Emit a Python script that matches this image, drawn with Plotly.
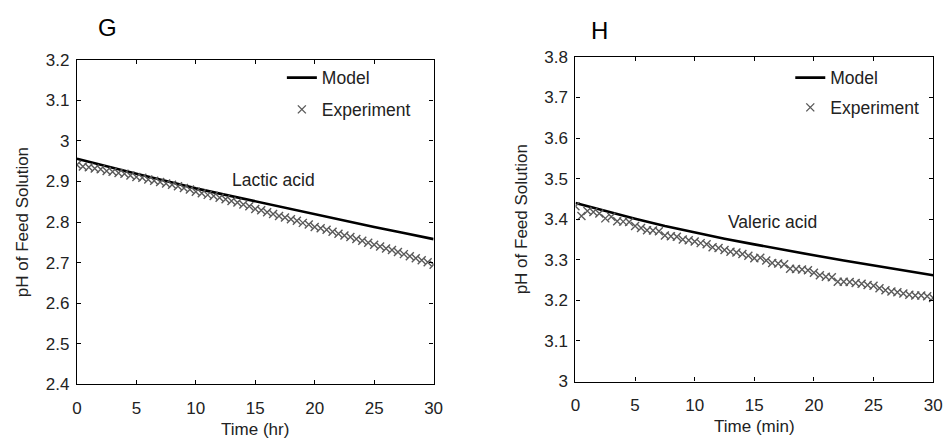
import plotly.graph_objects as go

# ---------------- data ----------------
t_exp = [i * 0.5 for i in range(61)]
t_model = [0, 2.5, 5, 7.5, 10, 12.5, 15, 17.5, 20, 22.5, 25, 27.5, 30]

lactic_model = [2.956, 2.937, 2.919, 2.901, 2.883, 2.867, 2.851, 2.835,
                2.819, 2.803, 2.788, 2.773, 2.758]
lactic_exp = [2.941, 2.937, 2.935, 2.932, 2.930, 2.926, 2.924, 2.921, 2.919, 2.915,
              2.911, 2.909, 2.905, 2.902, 2.899, 2.895, 2.892, 2.888, 2.884, 2.880,
              2.875, 2.871, 2.867, 2.864, 2.860, 2.856, 2.852, 2.848, 2.843, 2.839,
              2.832, 2.829, 2.824, 2.820, 2.815, 2.811, 2.807, 2.803, 2.798, 2.794,
              2.788, 2.785, 2.781, 2.776, 2.771, 2.767, 2.763, 2.758, 2.754, 2.749,
              2.744, 2.740, 2.735, 2.731, 2.726, 2.721, 2.716, 2.711, 2.706, 2.701,
              2.695]

valeric_model = [3.440, 3.420, 3.401, 3.383, 3.367, 3.352, 3.338, 3.324,
                 3.311, 3.298, 3.286, 3.274, 3.262]
valeric_exp = [3.432, 3.408, 3.420, 3.418, 3.414, 3.402, 3.406, 3.395, 3.394, 3.393,
               3.383, 3.378, 3.373, 3.372, 3.370, 3.360, 3.358, 3.357, 3.350, 3.348,
               3.345, 3.341, 3.338, 3.331, 3.329, 3.324, 3.320, 3.318, 3.314, 3.310,
               3.304, 3.305, 3.298, 3.292, 3.291, 3.289, 3.278, 3.277, 3.276, 3.274,
               3.268, 3.262, 3.258, 3.257, 3.246, 3.246, 3.245, 3.243, 3.241, 3.238,
               3.236, 3.230, 3.225, 3.222, 3.220, 3.217, 3.214, 3.212, 3.212, 3.210,
               3.206]

x_ticks = [0, 5, 10, 15, 20, 25, 30]
left_y_ticks = [2.4, 2.5, 2.6, 2.7, 2.8, 2.9, 3.0, 3.1, 3.2]
left_y_labels = ["2.4", "2.5", "2.6", "2.7", "2.8", "2.9", "3", "3.1", "3.2"]
right_y_ticks = [3.0, 3.1, 3.2, 3.3, 3.4, 3.5, 3.6, 3.7, 3.8]
right_y_labels = ["3", "3.1", "3.2", "3.3", "3.4", "3.5", "3.6", "3.7", "3.8"]

# ---------------- figure ----------------
FONT = "Liberation Sans, Arial, sans-serif"
TXT = "#222222"
MARK = "#5a5a5a"

fig = go.Figure()

exp_marker = dict(symbol="x-thin", size=8, color=MARK, line=dict(width=1.4, color=MARK))

fig.add_trace(go.Scatter(x=t_model, y=lactic_model, mode="lines", name="Model",
                         line=dict(color="black", width=2.6), xaxis="x", yaxis="y",
                         legend="legend", legendgroup="m1"))
fig.add_trace(go.Scatter(x=t_exp, y=lactic_exp, mode="markers", name="Experiment",
                         marker=exp_marker, xaxis="x", yaxis="y", legend="legend",
                         legendgroup="e1"))
fig.add_trace(go.Scatter(x=t_model, y=valeric_model, mode="lines", name="Model",
                         line=dict(color="black", width=2.6), xaxis="x2", yaxis="y2",
                         legend="legend2", legendgroup="m2"))
fig.add_trace(go.Scatter(x=t_exp, y=valeric_exp, mode="markers", name="Experiment",
                         marker=exp_marker, xaxis="x2", yaxis="y2", legend="legend2",
                         legendgroup="e2"))

W, H = 952, 448
def px(x):
    return x / W
def py(y):
    return 1 - y / H

axis_common = dict(showline=True, linecolor="black", linewidth=1.3, mirror="ticks",
                   ticks="inside", ticklen=4, tickwidth=1, tickcolor="black",
                   showgrid=False, zeroline=False,
                   tickfont=dict(family=FONT, size=17, color=TXT))

TF = dict(family=FONT, size=17, color=TXT)

fig.update_layout(
    width=W, height=H,
    margin=dict(l=0, r=0, t=0, b=0),
    paper_bgcolor="white", plot_bgcolor="white",
    font=dict(family=FONT, color=TXT),
    xaxis=dict(domain=[px(73), px(435)], range=[0, 30], tickvals=x_ticks,
               anchor="y", ticklabelstandoff=8,
               title=dict(text="Time (hr)", font=TF, standoff=6),
               **axis_common),
    yaxis=dict(domain=[py(392), py(53)], range=[2.4, 3.2], tickvals=left_y_ticks,
               ticktext=left_y_labels, anchor="x", ticklabelstandoff=3,
               title=dict(text="pH of Feed Solution", font=TF, standoff=12),
               **axis_common),
    xaxis2=dict(domain=[px(579), px(942)], range=[0, 30], tickvals=x_ticks,
                anchor="y2", ticklabelstandoff=8,
                title=dict(text="Time (min)", font=TF, standoff=6),
                **axis_common),
    yaxis2=dict(domain=[py(389), py(50)], range=[3.0, 3.8], tickvals=right_y_ticks,
                ticktext=right_y_labels, anchor="x2", ticklabelstandoff=3,
                title=dict(text="pH of Feed Solution", font=TF, standoff=12),
                **axis_common),
    legend=dict(x=px(281), y=py(53), xanchor="left", yanchor="top",
                bgcolor="rgba(0,0,0,0)", font=dict(family=FONT, size=17.5, color=TXT),
                tracegroupgap=6, itemwidth=30),
    legend2=dict(x=px(797), y=py(53), xanchor="left", yanchor="top",
                 bgcolor="rgba(0,0,0,0)", font=dict(family=FONT, size=17.5, color=TXT),
                 tracegroupgap=4, itemwidth=30),
    annotations=[
        dict(text="G", xref="paper", yref="paper", x=px(104), y=py(19),
             xanchor="center", yanchor="middle",
             showarrow=False, font=dict(family=FONT, size=24, color="black")),
        dict(text="H", xref="paper", yref="paper", x=px(603), y=py(22),
             xanchor="center", yanchor="middle",
             showarrow=False, font=dict(family=FONT, size=24, color="black")),
        dict(text="Lactic acid", xref="x", yref="y", x=16.5, y=2.903,
             showarrow=False, font=dict(family=FONT, size=17.5, color=TXT)),
        dict(text="Valeric acid", xref="x2", yref="y2", x=16.5, y=3.392,
             showarrow=False, font=dict(family=FONT, size=17.5, color=TXT)),
    ],
)

fig.write_html("out.html")
